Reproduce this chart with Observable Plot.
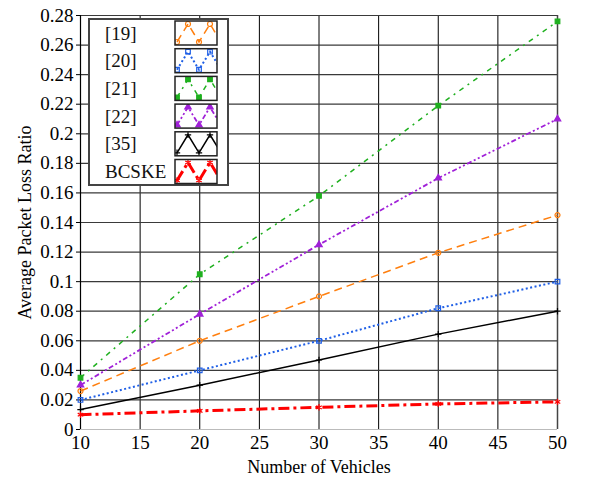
<!DOCTYPE html>
<html>
<head>
<meta charset="utf-8">
<script src="https://cdn.jsdelivr.net/npm/d3@7"></script>
<script src="https://cdn.jsdelivr.net/npm/@observablehq/plot@0.6"></script>
<style>
  html, body { margin: 0; padding: 0; background: #fff; }
  #chart { width: 590px; height: 480px; }
</style>
</head>
<body>
<div id="chart"></div>
<script>
// ---- data ----
const vehicles = [10, 20, 30, 40, 50];
const ref19 = [0.026, 0.060, 0.090, 0.1195, 0.145];
const ref20 = [0.020, 0.040, 0.060, 0.082, 0.100];
const ref21 = [0.035, 0.105, 0.158, 0.219, 0.276];
const ref22 = [0.030, 0.078, 0.125, 0.170, 0.210];
const ref35 = [0.0135, 0.030, 0.047, 0.0645, 0.080];
const bcske = [0.010, 0.0126, 0.015, 0.0173, 0.0187];
const seriesNames = ["[19]", "[20]", "[21]", "[22]", "[35]", "BCSKE"];
const xTicks = [10, 15, 20, 25, 30, 35, 40, 45, 50];
const yTicks = [0, 0.02, 0.04, 0.06, 0.08, 0.1, 0.12, 0.14, 0.16, 0.18, 0.2, 0.22, 0.24, 0.26, 0.28];
const xLabel = "Number of Vehicles";
const yLabel = "Average Packet Loss Ratio";

const FONT = "'Liberation Serif', 'Times New Roman', serif";

// ---- styles ----
const styles = [
  {color: "#ff7f0e", dash: "8,5", width: 1.5, symbol: "circle", fill: "none", r: 2.5},
  {color: "#1f5fe6", dash: "2,2.5", width: 2, symbol: "square", fill: "none", r: 2.6},
  {color: "#1fb01f", dash: "5,5,2,5", width: 1.5, symbol: "square", fill: "#1fb01f", r: 2.6},
  {color: "#a020d8", dash: "5,2.5,2,2.5,2,2.5", width: 1.8, symbol: "triangle", fill: "#a020d8", r: 2.4},
  {color: "#000000", dash: null, width: 1.5, symbol: "plus", fill: "none", r: 2.2},
  {color: "#ff0000", dash: "11,4,3,4", width: 3, symbol: "asterisk", fill: "none", r: 3}
];
const allSeries = [ref19, ref20, ref21, ref22, ref35, bcske];
const table = allSeries.flatMap((vals, i) => vehicles.map((v, j) => ({name: seriesNames[i], x: v, y: vals[j], i})));

const fmt = d3.format("~g");
const marks = [
  Plot.gridX(xTicks, {stroke: "#000", strokeOpacity: 1, strokeWidth: 1}),
  Plot.gridY(yTicks, {stroke: "#3a3a3a", strokeOpacity: 1, strokeWidth: 1.2}),
  Plot.ruleY([0], {stroke: "#bbb", strokeWidth: 1.2}),
  Plot.ruleX([50], {stroke: "#444", strokeWidth: 1.5}),
  Plot.ruleX([10], {stroke: "#000", strokeWidth: 1.2}),
  Plot.axisY(yTicks, {tickFormat: fmt, tickSize: 4, tickPadding: 3, fontSize: 19, fontFamily: FONT, label: null, stroke: "#000"}),
  Plot.axisX(xTicks, {tickFormat: fmt, tickSize: 0, tickPadding: 6, fontSize: 19, fontFamily: FONT, label: null}),
  Plot.text([yLabel], {frameAnchor: "left", dx: -55, rotate: -90, fontSize: 18, fontFamily: FONT, textAnchor: "middle", lineAnchor: "middle"}),
  Plot.text([xLabel], {frameAnchor: "bottom", dy: 38, fontSize: 18, fontFamily: FONT, textAnchor: "middle", lineAnchor: "middle"})
];
styles.forEach((s, i) => {
  const d = table.filter(t => t.i === i);
  marks.push(Plot.line(d, {x: "x", y: "y", stroke: s.color, strokeWidth: s.width, strokeDasharray: s.dash, strokeLinecap: "butt"}));
  marks.push(Plot.dot(d, {x: "x", y: "y", symbol: () => s.symbol, r: s.r, stroke: s.color, fill: s.fill, strokeWidth: 1.2}));
});

const plot = Plot.plot({
  width: 590, height: 480,
  marginLeft: 80, marginRight: 33, marginTop: 15, marginBottom: 51,
  x: {domain: [10, 50]},
  y: {domain: [0, 0.28]},
  symbol: {type: "identity"},
  style: {fontFamily: FONT, color: "#000", background: "#fff"},
  marks
});
document.getElementById("chart").appendChild(plot);

// ---- legend (inside plot area, top-left) ----
const svg = d3.select(plot);
const lg = svg.append("g").attr("font-family", FONT).attr("text-anchor", "start");
const bx = 89, by = 19, bw = 139, bh = 166;
lg.append("rect").attr("x", bx).attr("y", by).attr("width", bw).attr("height", bh)
  .attr("fill", "#fff").attr("stroke", "#444").attr("stroke-width", 2);
const rowH = 27.7;
seriesNames.forEach((name, i) => {
  const s = styles[i];
  const cy = by + 14 + i * rowH;
  lg.append("text").attr("x", 105).attr("y", cy).attr("dy", "0.35em")
    .attr("text-anchor", "start").attr("font-size", 19).attr("fill", "#111").text(name);
  const sx = 175, sy = cy - 12, sw = 42, sh = 24;
  const clipId = "lgclip" + i;
  lg.append("clipPath").attr("id", clipId).append("rect").attr("x", sx).attr("y", sy).attr("width", sw).attr("height", sh);
  const pts = [];
  for (let k = 0; k < 6; k++) pts.push([sx + 2 + k * 11, k % 2 === 0 ? sy + sh - 3 : sy + 3]);
  const gg = lg.append("g").attr("clip-path", `url(#${clipId})`);
  gg.append("path").attr("d", d3.line()(pts)).attr("fill", "none").attr("stroke", s.color)
    .attr("stroke-width", s.width).attr("stroke-dasharray", s.dash);
  const sym = d3.symbol().type({circle: d3.symbolCircle, square: d3.symbolSquare, triangle: d3.symbolTriangle, plus: d3.symbolPlus, asterisk: d3.symbolAsterisk}[s.symbol]).size(Math.PI * s.r * s.r);
  pts.forEach(p => gg.append("path").attr("d", sym()).attr("transform", `translate(${p[0]},${p[1]})`)
    .attr("fill", s.fill).attr("stroke", s.color).attr("stroke-width", 1.2));
  lg.append("rect").attr("x", sx).attr("y", sy).attr("width", sw).attr("height", sh)
    .attr("fill", "none").attr("stroke", "#222").attr("stroke-width", 1.5);
});
</script>
</body>
</html>
